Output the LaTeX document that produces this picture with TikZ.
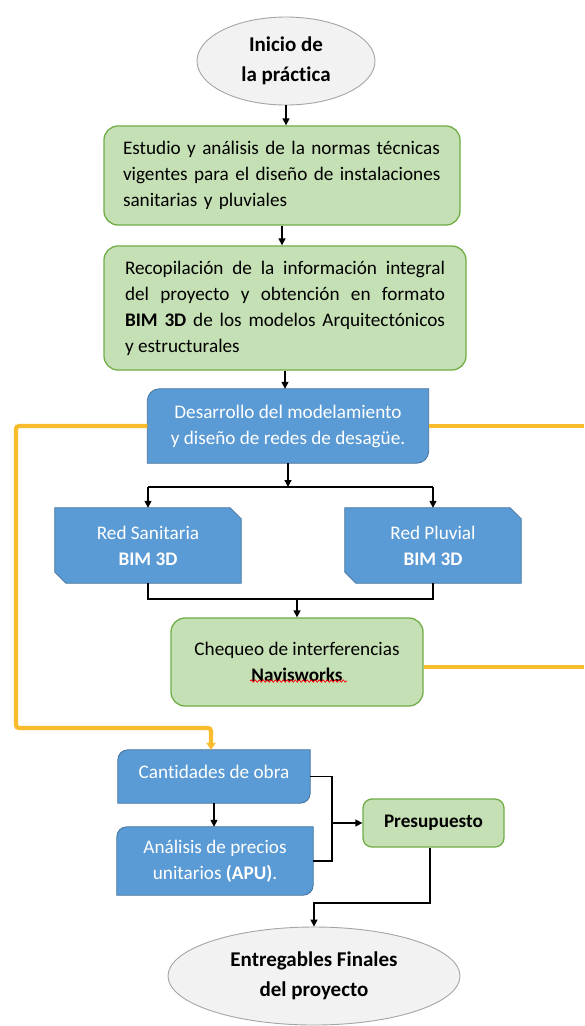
\documentclass[tikz,border=0pt]{standalone}
\usepackage{fontspec}
\setmainfont{Carlito}[Ligatures=NoCommon]
\usetikzlibrary{shapes.geometric,arrows.meta,calc,backgrounds,decorations.pathmorphing}
\definecolor{grnfill}{HTML}{C5E0B4}
\definecolor{grnline}{HTML}{70AD47}
\definecolor{bluefill}{HTML}{5B9BD5}
\definecolor{blueline}{HTML}{41719C}
\definecolor{ellfill}{HTML}{F2F2F2}
\definecolor{ellline}{HTML}{A5A5A5}
\definecolor{orng}{HTML}{F9BC2C}
% rounded top-left and bottom-right corners of node #1, radius #2
\newcommand{\diaground}[2]{%
  \draw[blueshape] ($(#1.north west)+(0,#2)$)
    .. controls ($(#1.north west)+(0,0.448*#2)$) and ($(#1.north west)+(0.448*#2,0)$) .. ($(#1.north west)+(#2,0)$)
    -- (#1.north east) -- ($(#1.south east)+(0,-#2)$)
    .. controls ($(#1.south east)+(0,-0.448*#2)$) and ($(#1.south east)+(-0.448*#2,0)$) .. ($(#1.south east)+(-#2,0)$)
    -- (#1.south west) -- cycle;}
\newcommand{\diagsnip}[2]{%
  \draw[blueshape] (#1.north west) -- ($(#1.north east)+(-#2,0)$) -- ($(#1.north east)+(0,#2)$) -- (#1.south east)
    -- ($(#1.south west)+(#2,0)$) -- ($(#1.south west)+(0,-#2)$) -- cycle;}
\tikzset{
  x=1pt, y=-1pt,
  greenbox/.style={draw=grnline, fill=grnfill, line width=1.3pt, rounded corners=14pt, inner sep=0pt,
    font=\fontsize{19.2}{26}\selectfont},
  bluetext/.style={inner sep=0pt, text=white, font=\fontsize{19.2}{26}\selectfont, align=center},
  blueshape/.style={draw=blueline, fill=bluefill, line width=0.8pt},
  ellbox/.style={ellipse, draw=ellline, fill=ellfill, line width=0.9pt, inner sep=0pt,
    font=\bfseries\fontsize{21}{30.5}\selectfont, align=center},
  conn/.style={line width=1.3pt, -{Triangle[width=7pt,length=7pt]}},
  plain/.style={line width=1.3pt},
  orangeline/.style={draw=orng, line width=4.2pt, rounded corners=3pt},
}
\begin{document}
\begin{tikzpicture}
\useasboundingbox (0,0) rectangle (584,1026);

% start
\node[ellbox, minimum width=178pt, minimum height=88pt] (start) at (286,61) {Inicio de\\la práctica};

% green boxes
\node[greenbox, minimum width=356pt, minimum height=99pt, text width=318pt, align=left] (b1) at (282,175.5)
  {Estudio y análisis de la normas técnicas\\vigentes para el diseño de instalaciones\\sanitarias y pluviales};
\node[greenbox, minimum width=362pt, minimum height=124pt, text width=320pt, align=justify] (b2) at (285,308)
  {Recopilación de la información integral\linebreak del proyecto y obtención en formato\linebreak \textbf{BIM 3D} de los modelos Arquitectónicos\linebreak y estructurales};

% blue: desarrollo
\node[bluetext, minimum width=281pt, minimum height=74pt] (des) at (288,426)
  {Desarrollo del modelamiento\\y diseño de redes de desagüe.};
% red boxes
\node[bluetext, minimum width=186pt, minimum height=75pt] (san) at (148,545.5) {Red Sanitaria\\\textbf{BIM 3D}};
\node[bluetext, minimum width=176pt, minimum height=75pt] (plu) at (433,545.5) {Red Pluvial\\\textbf{BIM 3D}};
% chequeo
\node[greenbox, minimum width=252pt, minimum height=88pt, align=center] (chk) at (297,662)
  {Chequeo de interferencias\\\textbf{Navisworks}};
% cantidades, apu
\node[bluetext, minimum width=192pt, minimum height=53pt] (cant) at (214,776.5)
  {\raisebox{5pt}[\height][\depth]{Cantidades de obra}};
\node[bluetext, minimum width=196pt, minimum height=68pt] (apu) at (215,861)
  {Análisis de precios\\unitarios \textbf{(APU)}.};
% presupuesto
\node[greenbox, rounded corners=9pt, minimum width=141pt, minimum height=48pt, font=\bfseries\fontsize{19.2}{26}\selectfont] (pres) at (433.5,823) {Presupuesto};
% end
\node[ellbox, minimum width=292pt, minimum height=98pt] (fin) at (314,976) {Entregables Finales\\del proyecto};

% blue shapes on background
\begin{pgfonlayer}{background}
\fill[white] (0,0) rectangle (584,1026);
\diaground{des}{12}
\diaground{cant}{10}
\diaground{apu}{10}
\diagsnip{san}{11}
\diagsnip{plu}{11}
\end{pgfonlayer}

% spell-check underline
\draw[red, line width=0.7pt, decorate, decoration={snake, amplitude=1.2pt, segment length=4pt}] (250,681) -- (347,681);

% black connectors
\draw[conn] (start.south) -- (start.south |- b1.north);
\draw[conn] (b1.south) -- (b1.south |- b2.north);
\draw[conn] (b2.south) -- (b2.south |- des.north);
\coordinate (br) at (288,487);
\draw[conn] (des.south) -- (br);
\draw[plain] (san.north |- br) -- (plu.north |- br);
\draw[conn] (san.north |- br) -- (san.north);
\draw[conn] (plu.north |- br) -- (plu.north);
\coordinate (bj) at (297,599);
\draw[plain] (san.south) -- (san.south |- bj) -| (plu.south);
\draw[conn] (bj) -- (chk.north);
\draw[conn] (cant.south) -- (cant.south |- apu.north);
\coordinate (jx) at (332,823);
\draw[plain] (cant.east) -| (jx |- apu.east) -- (apu.east);
\draw[conn] (jx) -- (pres.west);
\coordinate (pj) at (430,903);
\draw[conn] (pres.south -| pj) -- (pj) -| (fin.north);

% orange lines
\coordinate (oL) at (16,728);
\coordinate (oR1) at (584,429);
\coordinate (oR2) at (584,667);
\draw[orangeline, -{Triangle[width=9pt,length=7pt]}] (des.west) -| (oL) -| ([xshift=-3pt]cant.north);
\draw[orangeline] (des.east) -- (des.east -| oR1);
\draw[orangeline] (oR2 -| chk.east) -- (oR2);
\end{tikzpicture}
\end{document}
